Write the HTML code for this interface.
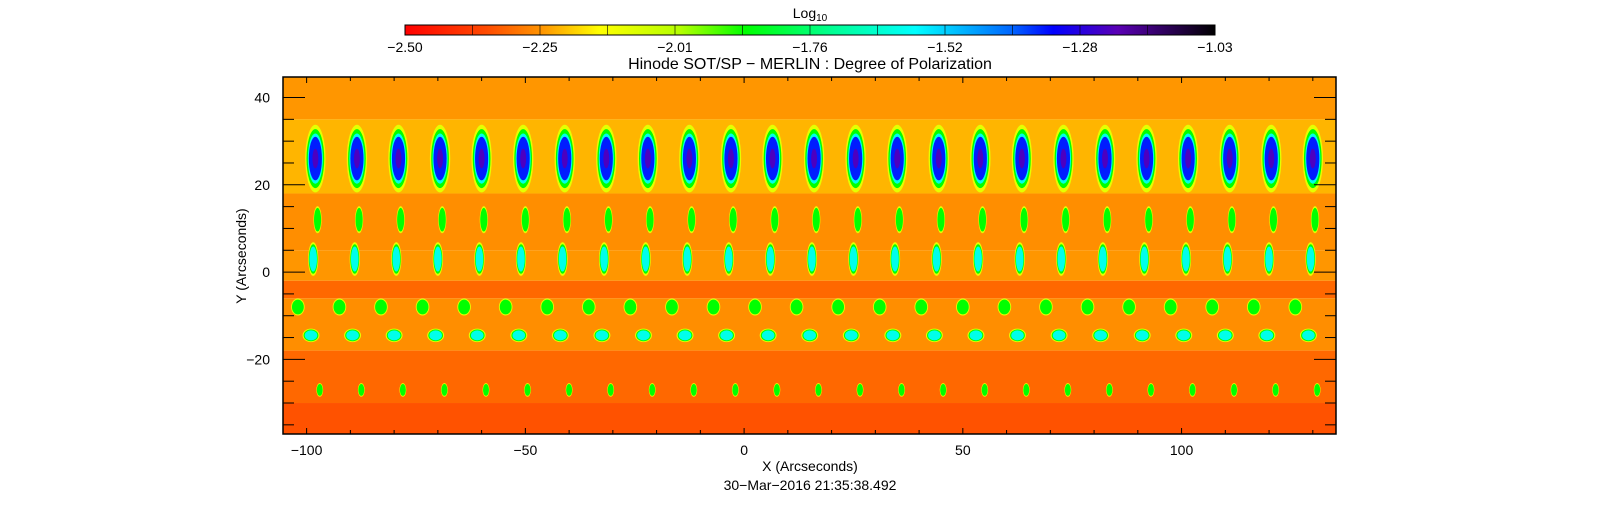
<!DOCTYPE html>
<html><head><meta charset="utf-8">
<style>
html,body{margin:0;padding:0;background:#fff;}
svg{display:block;font-family:"Liberation Sans",sans-serif;}
</style></head>
<body>
<svg id="chart" width="1618" height="512" viewBox="0 0 1618 512" xmlns="http://www.w3.org/2000/svg">
<defs>
<linearGradient id="cbar" x1="0" x2="1" y1="0" y2="0">
<stop offset="0" stop-color="#ff0000"/>
<stop offset="0.10" stop-color="#ff4a00"/>
<stop offset="0.17" stop-color="#ff9600"/>
<stop offset="0.24" stop-color="#ffff00"/>
<stop offset="0.34" stop-color="#b4ff00"/>
<stop offset="0.42" stop-color="#00ff00"/>
<stop offset="0.53" stop-color="#00ff96"/>
<stop offset="0.63" stop-color="#00ffff"/>
<stop offset="0.75" stop-color="#0064ff"/>
<stop offset="0.80" stop-color="#0000ff"/>
<stop offset="0.88" stop-color="#5a00b4"/>
<stop offset="1" stop-color="#000000"/>
</linearGradient>
<clipPath id="plotclip"><rect x="283" y="77" width="1053" height="357"/></clipPath>
</defs>
<g id="heat" clip-path="url(#plotclip)"></g>
<g id="axes"></g>
<text x="810" y="18" font-size="14" text-anchor="middle">Log<tspan font-size="10" dy="3">10</tspan></text>
<text x="810" y="69" font-size="16" text-anchor="middle">Hinode SOT/SP − MERLIN : Degree of Polarization</text>
<text x="810" y="471" font-size="14" text-anchor="middle">X (Arcseconds)</text>
<text x="810" y="490" font-size="14" text-anchor="middle">30−Mar−2016 21:35:38.492</text>
<text x="0" y="0" font-size="14" text-anchor="middle" transform="translate(246,256) rotate(-90)">Y (Arcseconds)</text>
</svg>
<script>
// ---- data ----
const bandTops = [45, 35, 18, 5, -2, -6, -18, -30];
const bandBottoms = [35, 18, 5, -2, -6, -18, -30, -38];
const bandValues = [-2.25, -2.22, -2.26, -2.25, -2.31, -2.26, -2.31, -2.34];
const colX = [-98, -88.5, -79, -69.5, -60, -50.5, -41, -31.5, -22, -12.5, -3, 6.5, 16, 25.5, 35, 44.5, 54, 63.5, 73, 82.5, 92, 101.5, 111, 120.5, 130];
const rowY = [26, 12, 3, -8, -14.5, -27];
const rowDx = [0, 0.5, -0.5, -4, -1, 1];
const rowW = [3, 1.2, 1.5, 2, 2.5, 1];
const rowH = [10, 4, 5, 2.5, 2, 2];
const rowValue = [-1.25, -1.85, -1.5, -1.75, -1.45, -1.95];
const xTicks = [-100, -50, 0, 50, 100];
const yTicks = [-20, 0, 20, 40];
const cbarTicks = ["-2.50", "-2.25", "-2.01", "-1.76", "-1.52", "-1.28", "-1.03"];

// ---- scales ----
const X0 = 283, X1 = 1336, Y0 = 77, Y1 = 434;
const xmin = -105.4, xmax = 135.3, ymin = -37.1, ymax = 44.7;
const sx = v => X0 + (v - xmin) / (xmax - xmin) * (X1 - X0);
const sy = v => Y1 - (v - ymin) / (ymax - ymin) * (Y1 - Y0);
const kx = (X1 - X0) / (xmax - xmin), ky = (Y1 - Y0) / (ymax - ymin);
const stops = [[-2.5,[255,0,0]],[-2.35,[255,74,0]],[-2.25,[255,150,0]],[-2.15,[255,255,0]],[-2.0,[180,255,0]],[-1.88,[0,255,0]],[-1.72,[0,255,150]],[-1.57,[0,255,255]],[-1.4,[0,100,255]],[-1.33,[0,0,255]],[-1.2,[90,0,180]],[-1.03,[0,0,0]]];
function color(v){
  if(v<=stops[0][0]) return 'rgb(255,0,0)';
  for(let i=1;i<stops.length;i++){
    if(v<=stops[i][0]){const a=stops[i-1],b=stops[i];const t=(v-a[0])/(b[0]-a[0]);
      const c=a[1].map((q,j)=>Math.round(q+(b[1][j]-q)*t));return `rgb(${c})`;}
  }
  return 'rgb(0,0,0)';
}
const NS='http://www.w3.org/2000/svg';
const heat=document.getElementById('heat'), axes=document.getElementById('axes');
function mk(tag, attrs, parent){const e=document.createElementNS(NS,tag);for(const k in attrs)e.setAttribute(k,attrs[k]);parent.appendChild(e);return e;}

bandValues.forEach((v,i)=>{
  const r=mk('rect',{x:X0,y:sy(bandTops[i]),width:X1-X0,height:sy(bandBottoms[i])-sy(bandTops[i]),fill:color(v)},heat);
  
  
});
// halo layers: [threshold value, size factor]
const layers=[[-2.1,1.55],[-1.88,1.35],[-1.6,1.15],[-1.35,1.0],[-1.22,0.45]];
colX.forEach(cx=>{
  rowY.forEach((ry,j)=>{
    const g=mk('g',{},heat);
    
    
    const v=rowValue[j];
    layers.forEach(([thr,f])=>{
      if(v>=thr-0.08){
        mk('ellipse',{cx:sx(cx+rowDx[j]),cy:sy(ry),rx:rowW[j]/2*f*kx,ry:rowH[j]/2*f*ky,fill:color(thr)},g);
      }
    });
  });
});

const fr=mk('rect',{x:X0,y:Y0,width:X1-X0,height:Y1-Y0,fill:'none',stroke:'#000','stroke-width':1.5},axes);


for(let v=-100;v<=130;v+=10){
  const L=(v%50===0)?6:4;
  mk('line',{x1:sx(v),x2:sx(v),y1:Y1,y2:Y1-L,stroke:'#000'},axes);
  mk('line',{x1:sx(v),x2:sx(v),y1:Y0,y2:Y0+L,stroke:'#000'},axes);
}
xTicks.forEach(v=>{
  const t=mk('text',{x:sx(v),y:455,'font-size':14,'text-anchor':'middle'},axes);
  t.textContent=(v<0?'\u2212'+(-v):v);
  
  
});
for(let v=-35;v<=40;v+=5){
  const L=(v%20===0)?22:11;
  mk('line',{x1:X0,x2:X0+L,y1:sy(v),y2:sy(v),stroke:'#000'},axes);
  mk('line',{x1:X1,x2:X1-L,y1:sy(v),y2:sy(v),stroke:'#000'},axes);
}
yTicks.forEach(v=>{
  const t=mk('text',{x:270,y:sy(v)+5,'font-size':14,'text-anchor':'end'},axes);
  t.textContent=(v<0?'\u2212'+(-v):v);
  
  
});
const cb=mk('rect',{x:405,y:25,width:810,height:10,fill:'url(#cbar)',stroke:'#000'},axes);


for(let i=1;i<12;i++){mk('line',{x1:405+i*67.5,x2:405+i*67.5,y1:25,y2:35,stroke:'#000','stroke-width':0.6},axes);}
cbarTicks.forEach((s,i)=>{
  const t=mk('text',{x:405+i*135,y:52,'font-size':14,'text-anchor':'middle'},axes);
  t.textContent=s.replace('-','\u2212');
  
  
});
</script>
</body></html>
